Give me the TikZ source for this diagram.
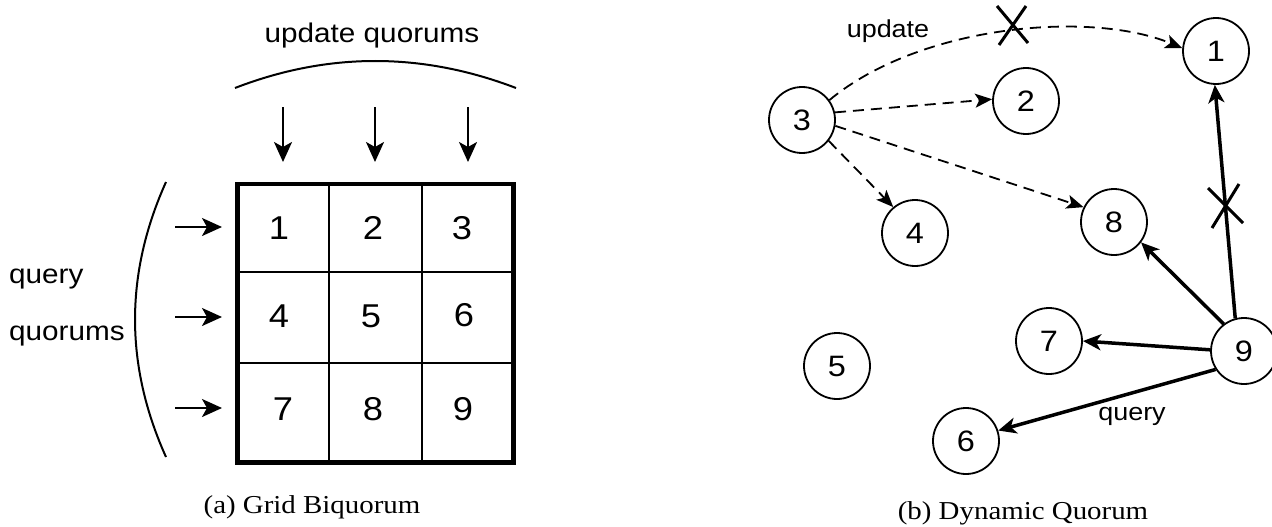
\documentclass[tikz,border=0pt]{standalone}
\usepackage{fontspec}
\setmainfont[FakeStretch=1.12]{Liberation Serif}
\newfontfamily\arialx[FakeStretch=1.1]{Liberation Sans}
\usetikzlibrary{arrows.meta}
\begin{document}
\begin{tikzpicture}[x=1pt,y=-1pt,
  lbl/.style={font=\arialx\fontsize{27}{30}\selectfont, inner sep=0pt},
  smalllbl/.style={font=\arialx\fontsize{24.5}{28}\selectfont, inner sep=0pt},
  captext/.style={font=\fontsize{25.8}{30}\selectfont, inner sep=0pt},
  cellnum/.style={font=\arialx\fontsize{33}{36}\selectfont, inner sep=0pt},
  site/.style={circle, draw, line width=1.8pt, minimum size=66pt, inner sep=0pt, font=\arialx\fontsize{29.5}{32}\selectfont},
  gridarrow/.style={line width=2pt, -{Stealth[length=20pt,width=18pt,inset=5pt]}},
  bracket/.style={line width=2pt},
  gridline/.style={line width=2pt},
  gridborder/.style={line width=4.5pt},
  upd/.style={line width=1.8pt, dash pattern=on 11pt off 7pt, -{Stealth[length=17pt,width=14pt,inset=4pt]}},
  qry/.style={line width=3.5pt, -{Stealth[length=18pt,width=16pt,inset=5pt]}},
  fail/.style={line width=3pt},
]
\useasboundingbox (0,0) rectangle (1272,527);

% ---------- (a) Grid Biquorum ----------
\draw[gridline] (329,184) -- (329,462.5) (422,184) -- (422,462.5)
                (237.5,272) -- (513.5,272) (237.5,363) -- (513.5,363);
\draw[gridborder] (237.5,184) rectangle (513.5,462.5);

\node[cellnum] (c1) at (279,228) {1};
\node[cellnum] (c2) at (373,228) {2};
\node[cellnum] (c3) at (462,228) {3};
\node[cellnum] (c4) at (279,316) {4};
\node[cellnum] (c5) at (371,316) {5};
\node[cellnum] (c6) at (464,315) {6};
\node[cellnum] (c7) at (283,409) {7};
\node[cellnum] (c8) at (373,409) {8};
\node[cellnum] (c9) at (463,409) {9};

\node[lbl, anchor=base] (uq) at (372,43) {update quorums};
\draw[bracket] (235,88) .. controls (328,52) and (422,52) .. (516,88);

\coordinate (ds1) at (283,107); \coordinate (de1) at (283,162);
\coordinate (ds2) at (375,107); \coordinate (de2) at (375,162);
\coordinate (ds3) at (468,107); \coordinate (de3) at (468,162);
\draw[gridarrow] (ds1) -- (de1);
\draw[gridarrow] (ds2) -- (de2);
\draw[gridarrow] (ds3) -- (de3);

\node[lbl, anchor=base west] (q1) at (9,283) {query};
\node[lbl, anchor=base west] (q2) at (9,340) {quorums};
\draw[bracket] (166,182) .. controls (124.7,273.7) and (124.7,365.3) .. (166,457);

\coordinate (ls1) at (175,227); \coordinate (le1) at (222,227);
\coordinate (ls2) at (175,317); \coordinate (le2) at (222,317);
\coordinate (ls3) at (175,408); \coordinate (le3) at (222,408);
\draw[gridarrow] (ls1) -- (le1);
\draw[gridarrow] (ls2) -- (le2);
\draw[gridarrow] (ls3) -- (le3);

\node[captext, anchor=base] (capa) at (312,513) {(a) Grid Biquorum};

% ---------- (b) Dynamic Quorum ----------
\node[site] (n1) at (1216,51) {1};
\node[site] (n2) at (1026,101) {2};
\node[site] (n3) at (802,120) {3};
\node[site] (n4) at (915,233) {4};
\node[site] (n5) at (837,366) {5};
\node[site] (n6) at (966,441) {6};
\node[site] (n7) at (1049,341) {7};
\node[site] (n8) at (1114,222) {8};
\node[site] (n9) at (1244,351) {9};

\draw[upd] (n3.36) .. controls (920,25) and (1090,10) .. (n1.175);
\draw[upd] (n3.13) -- (n2.177);
\draw[upd] (n3.-10) -- (n8.154);
\draw[upd] (n3.-38) -- (n4.130);

\draw[qry] (n9.105) -- (n1.-92);
\draw[qry] (n9.127) -- (n8.-37);
\draw[qry] (n9.178) -- (n7.east);
\draw[qry] (n9.213) -- (n6.18);

\draw[fail] (997,6) -- (1028,43) (1026,6) -- (999,45);
\draw[fail] (1208,188) -- (1243,223) (1239,184) -- (1212,228);

\node[smalllbl, anchor=base] (lu) at (888,38) {update};
\node[smalllbl, anchor=base] (lq) at (1132,420) {query};

\node[captext, anchor=base] (capb) at (1023,519) {(b) Dynamic Quorum};
\end{tikzpicture}
\end{document}
